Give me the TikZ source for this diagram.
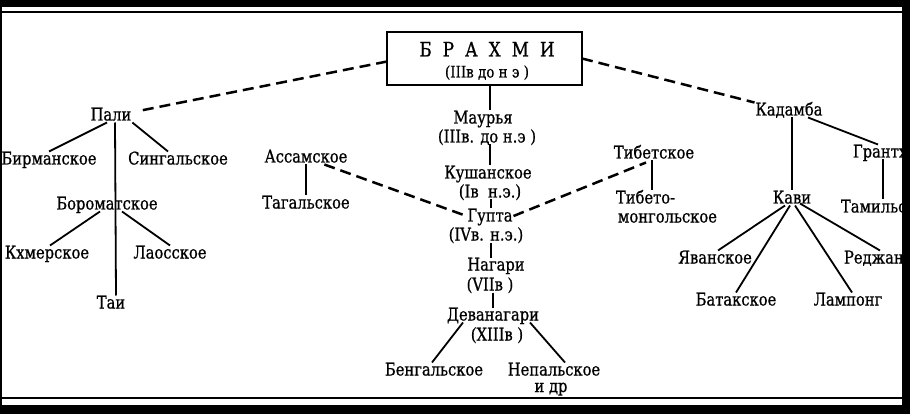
\documentclass[tikz,border=0pt]{standalone}
\usepackage{fontspec}
\setmainfont{DejaVu Serif}[FakeStretch=0.84, FakeBold=0.8]
\usetikzlibrary{calc}
\begin{document}
\begin{tikzpicture}[x=1pt,y=-1pt,
  every node/.style={inner sep=1pt, outer sep=0pt, text height=12pt, text depth=1pt, font=\fontsize{17.5}{19}\selectfont},
  tie/.style={line width=1.8pt},
  dashline/.style={line width=2.5pt, dash pattern=on 11pt off 6pt},
  band/.style={fill=black},
  rule/.style={line width=1.5pt}
]
\useasboundingbox (0,0) rectangle (910,414);
\clip (0,0) rectangle (910,414);
\fill[white] (0,0) rectangle (910,414);

% top box
\node[draw, line width=2.5pt, minimum width=195pt, minimum height=53pt, inner sep=0pt, text height=, text depth=] (brahmi) at (484.5,58.5) {};
\node[font=\fontsize{20}{22}\selectfont] (btitle) at (487,51) {Б\hspace{11pt}Р\hspace{11pt}А\hspace{11pt}Х\hspace{11pt}М\hspace{11pt}И};
\node[font=\fontsize{16}{18}\selectfont] (bdate) at (487,72) {(IIIв до н э )};

% left tree
\node (pali) at (111,115) {Пали};
\node (birm) at (49,159) {Бирманское};
\node (sing) at (178,159) {Сингальское};
\node (borom) at (107,204) {Бороматское};
\node (khmer) at (47,253) {Кхмерское};
\node (lao) at (170,253) {Лаосское};
\node (tai) at (111,303) {Таи};

\node (assam) at (306,157) {Ассамское};
\node (tagal) at (306,203) {Тагальское};

% centre column
\node (maurya) at (483,118) {Маурья};
\node (mauryad) at (487,137) {(IIIв. до н.э )};
\node (kush) at (488,173) {Кушанское};
\node (kushd) at (490,192) {(Iв\ \ н.э.)};
\node (gupta) at (490,216) {Гупта};
\node (guptad) at (486,235) {(IVв. н.э.)};
\node (nagari) at (496,265) {Нагари};
\node (nagarid) at (490,285) {(VIIв )};
\node (deva) at (493,315) {Деванагари};
\node (devad) at (497,335) {(XIIIв )};
\node (beng) at (434,370) {Бенгальское};
\node (nep) at (554,370) {Непальское};
\node[text height=9pt] (nepb) at (551,388) {и др};

% right side
\node (tibet) at (654,153) {Тибетское};
\node[anchor=west] (tm1) at (615,198) {Тибето-};
\node[anchor=west] (tm2) at (617,217) {монгольское};
\node (kadamba) at (789,110) {Кадамба};
\node (kavi) at (792,198) {Кави};
\node[anchor=west] (grantha) at (852,152) {Грантха};
\node[anchor=west] (tamil) at (840,207) {Тамильское};
\node (yav) at (715,258) {Яванское};
\node (batak) at (736,300) {Батакское};
\node (lamp) at (848,300) {Лампонг};
\node[anchor=west] (redj) at (843,258) {Реджанг};

% dashed links
\draw[dashline] ($(brahmi.west)+(0,3)$) -- ($(pali.east)+(6,-4)$);
\draw[dashline] (brahmi.east) -- (kadamba.north west);
\draw[dashline] ($(assam.south east)+(-24,0)$) -- (gupta.west);
\draw[dashline] (gupta.east) -- ($(tibet.south)+(-8,2)$);

% solid links, left
\draw[tie] ($(pali.south)+(-4,0)$) -- (birm.north);
\draw[tie] (pali.south east) -- ($(sing.north)+(-10,0)$);
\draw[tie] ($(pali.south)+(4,0)$) -- ($(tai.north)+(5,0)$);
\draw[tie] ($(borom.south)+(-7,0)$) -- ($(khmer.north)+(3,0)$);
\draw[tie] ($(borom.south)+(15,0)$) -- (lao.north);
\draw[tie] (assam.south) -- (tagal.north);

% solid links, centre
\draw[tie] (brahmi.south -| 490,0) -- (maurya.north -| 490,0);
\draw[tie] (mauryad.south -| 490,0) -- (kush.north -| 490,0);
\draw[tie] (kushd.south -| 491,0) -- (gupta.north -| 491,0);
\draw[tie] (guptad.south -| 491,0) -- (nagari.north -| 491,0);
\draw[tie] (nagarid.south -| 493,0) -- (deva.north -| 493,0);
\draw[tie] ($(deva.south)+(-30,0)$) -- ($(beng.north)+(-2,0)$);
\draw[tie] ($(deva.south)+(37,0)$) -- ($(nep.north)+(11,0)$);

% solid links, right
\draw[tie] (tibet.south -| 652,0) -- (tm1.north -| 652,0);
\draw[tie] ($(kadamba.south)+(3,0)$) -- (kavi.north);
\draw[tie] ($(kadamba.south)+(19,0)$) -- ($(grantha.north west)+(26,0)$);
\draw[tie] ($(grantha.south west)+(31,0)$) -- ($(tamil.north west)+(43,0)$);
\draw[tie] ($(kavi.south)+(-7,0)$) -- ($(yav.north)+(3,0)$);
\draw[tie] ($(kavi.south)+(-2,0)$) -- (batak.north);
\draw[tie] ($(kavi.south)+(3,0)$) -- ($(lamp.north)+(4,0)$);
\draw[tie] ($(kavi.south)+(8,-2)$) -- ($(redj.north west)+(37,0)$);

% frame
\fill[band] (0,0) rectangle (910,7);
\draw[rule] (0,12) -- (910,12);
\draw[rule] (0,398) -- (910,398);
\fill[band] (0,405) rectangle (910,414);
\fill[band] (0,0) rectangle (2,414);
\fill[band] (902,0) rectangle (910,414);
\end{tikzpicture}
\end{document}
